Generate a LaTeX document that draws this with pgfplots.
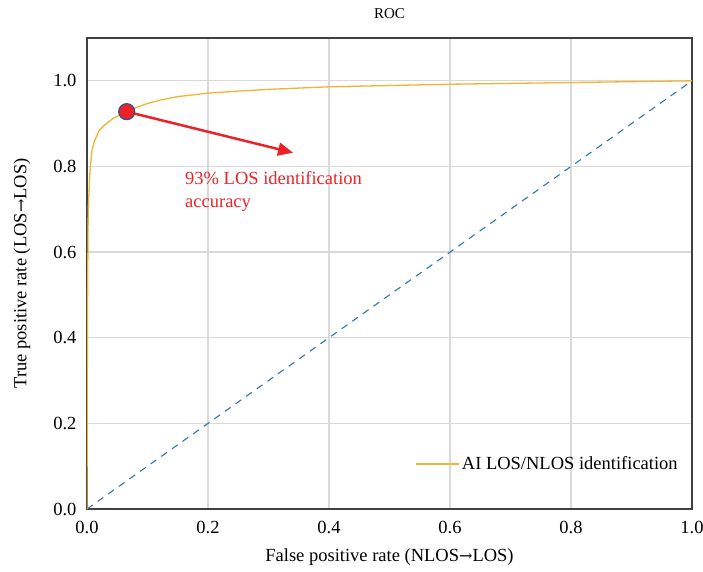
\documentclass[border=0pt]{standalone}
\usepackage{fontspec}
\setmainfont{Liberation Serif}
\newfontfamily\arrowfont{DejaVu Serif}
\usepackage{pgfplots}
\pgfplotsset{compat=1.18}
\usetikzlibrary{arrows.meta}
\definecolor{rocorange}{RGB}{240,180,50}
\definecolor{diagblue}{RGB}{46,117,182}
\definecolor{annred}{RGB}{236,34,38}
\definecolor{markedge}{RGB}{50,80,150}
\definecolor{gridgray}{RGB}{217,217,217}
\definecolor{framegray}{RGB}{64,64,64}
\newcommand{\bigfont}{\rmfamily\fontsize{18.5}{22}\selectfont}
\newcommand{\arr}{{\arrowfont\fontsize{16}{20}\selectfont →}}
\begin{document}
\begin{tikzpicture}[font=\bigfont]
\begin{axis}[
  scale only axis,
  width=605pt, height=471pt,
  xmin=0, xmax=1, ymin=0, ymax=1.1,
  xtick={0,0.2,0.4,0.6,0.8,1.0},
  ytick={0,0.2,0.4,0.6,0.8,1.0},
  xticklabel style={/pgf/number format/fixed,/pgf/number format/fixed zerofill,/pgf/number format/precision=1, yshift=-9pt},
  yticklabel style={/pgf/number format/fixed,/pgf/number format/fixed zerofill,/pgf/number format/precision=1, xshift=-7pt},
  /pgf/number format/assume math mode=true,
  major tick length=0pt,
  grid=major,
  major grid style={gridgray, line width=1.2pt},
  axis line style={framegray, line width=1.5pt},
  tick label style={font=\bigfont},
  label style={font=\bigfont},
  xlabel={False positive rate (NLOS\arr LOS)},
  ylabel={True positive rate (LOS\arr LOS)},
  xlabel style={at={(axis description cs:0.5,-0.102)}, anchor=center},
  ylabel style={at={(axis description cs:-0.1074,0.5)}, anchor=center},
  title={ROC},
  title style={at={(axis description cs:0.5,1.038)}, anchor=center, font=\rmfamily\fontsize{15}{18}\selectfont},
  legend style={draw=none, fill=none, at={(axis description cs:0.985,0.0955)}, anchor=east, font=\bigfont},
  legend cell align=left,
  legend image code/.code={\draw[#1] (0pt,0pt) -- (43pt,0pt);},
]
\addplot[diagblue, line width=1.1pt, dash pattern=on 7pt off 6pt, forget plot] coordinates {(0,0) (1,1)};
\addplot[rocorange, line width=1.3pt] coordinates {
(0,0) (0.0005,0.3) (0.001,0.5) (0.002,0.70) (0.005,0.79) (0.008,0.835) (0.012,0.858)
(0.02,0.884) (0.03,0.898) (0.043,0.912) (0.055,0.921) (0.066,0.928) (0.08,0.937)
(0.1,0.947) (0.121,0.955) (0.15,0.963) (0.198,0.971) (0.25,0.976) (0.3,0.980)
(0.4,0.986) (0.5,0.989) (0.6,0.992) (0.7,0.994) (0.8,0.996) (0.9,0.998) (1,1)};
\addlegendentry{AI LOS/NLOS identification}
\addplot[annred, line width=2.5pt, -{Triangle[length=15pt,width=13pt]}, shorten <=8pt, forget plot] coordinates {(0.0656,0.928) (0.3405,0.832)};
\addplot[only marks, mark=*, mark size=8pt, mark options={fill=annred, draw=markedge, line width=1.2pt}, forget plot] coordinates {(0.0656,0.928)};
\node[anchor=north west, align=left, text=annred, inner sep=0pt, font=\rmfamily\fontsize{18.5}{23}\selectfont] at (axis cs:0.162,0.788) {93\% LOS identification\\accuracy};
\end{axis}
\pgfresetboundingbox
\path[use as bounding box] ([xshift=-87pt,yshift=-63pt]current axis.south west) rectangle ([xshift=11pt,yshift=38pt]current axis.north east);
\end{tikzpicture}
\end{document}
